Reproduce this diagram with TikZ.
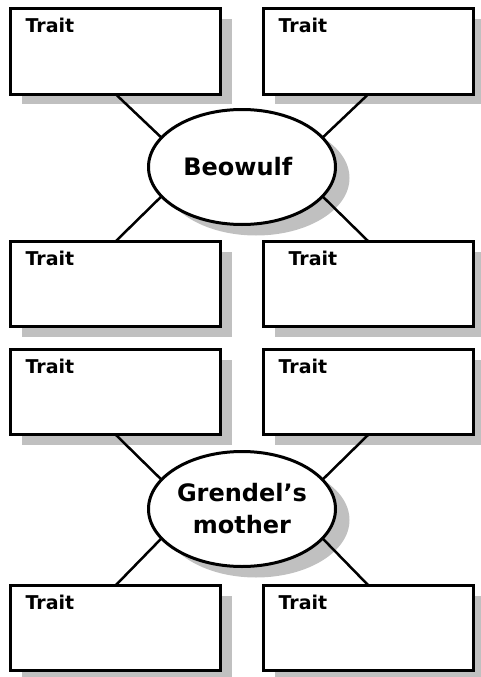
\documentclass[tikz,border=0pt]{standalone}
\usepackage{fontspec}
\setmainfont{DejaVu Sans}
\usetikzlibrary{positioning,shapes.geometric,shadows}
\definecolor{shadowgray}{RGB}{192,192,192}

\begin{document}
\begin{tikzpicture}[x=1pt, y=-1pt, line width=3pt,
	block/.style = { rectangle, draw=black, fill=white,
	inner sep=0pt, outer sep=0pt, minimum width=210pt, minimum height=85pt,
	drop shadow={shadow xshift=11pt, shadow yshift=-10pt,
	fill=shadowgray, opacity=1},
	label={[trait,#1]north west:Trait} },
	block/.default=,
	trait/.style = { anchor=base west, inner sep=0pt,
	xshift=13.5pt, yshift=-23.5pt, font=\fontsize{19}{22}\selectfont\bfseries },
	hero/.style = { ellipse, draw=black, fill=white, align=center,
	inner sep=0pt, outer sep=0pt, minimum width=187pt, minimum height=115pt,
	font=\fontsize{24}{32}\selectfont\bfseries,
	drop shadow={shadow xshift=14pt, shadow yshift=-11pt,
	fill=shadowgray, opacity=1} },
	link/.style = { line width=2.5pt } ]

  \useasboundingbox (0,0) rectangle (480,677);

  % Beowulf
  \node [name=beo, hero] at (242,167) { Beowulf };
  \node [name=beotl, block, above left=73pt and 21.5pt of beo.center] {};
  \node [name=beotr, block, above right=73pt and 21.5pt of beo.center] {};
  \node [name=beobl, block, below left=74.5pt and 21.5pt of beo.center] {};
  \node [name=beobr, block={xshift=10pt},
	below right=74.5pt and 21.5pt of beo.center] {};
  \draw [link] (beotl.south) -- (beo.160);
  \draw [link] (beotr.south) -- (beo.20);
  \draw [link] (beobl.north) -- (beo.200);
  \draw [link] (beobr.north) -- (beo.340);

  % Grendel's mother
  \node [name=gm, hero] at (242,509) { Grendel’s\\mother };
  \node [name=gmtl, block, above left=74.5pt and 21.5pt of gm.center] {};
  \node [name=gmtr, block, above right=74.5pt and 21.5pt of gm.center] {};
  \node [name=gmbl, block, below left=76.5pt and 21.5pt of gm.center] {};
  \node [name=gmbr, block, below right=76.5pt and 21.5pt of gm.center] {};
  \draw [link] (gmtl.south) -- (gm.160);
  \draw [link] (gmtr.south) -- (gm.20);
  \draw [link] (gmbl.north) -- (gm.200);
  \draw [link] (gmbr.north) -- (gm.340);
\end{tikzpicture}
\end{document}
